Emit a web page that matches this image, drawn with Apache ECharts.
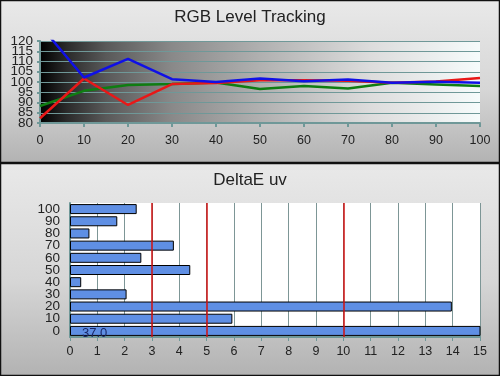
<!DOCTYPE html>
<html>
<head>
<meta charset="utf-8">
<script src="https://cdn.jsdelivr.net/npm/echarts@6/dist/echarts.min.js"></script>
<style>
  html, body { margin: 0; padding: 0; }
  #chart { width: 500px; height: 376px; }
</style>
</head>
<body>
<div id="chart"></div>
<script>
// RGB level tracking (top)
var levels = ['0', '10', '20', '30', '40', '50', '60', '70', '80', '90', '100'];
var redVals = [82.3, 101.7, 88.8, 99.0, 99.5, 100.8, 100.9, 100.6, 99.6, 100.2, 102.0];
var greenVals = [88.3, 95.7, 98.5, 99.0, 99.8, 96.6, 98.0, 96.8, 99.6, 98.8, 98.0];
var blueVals = [127.7, 102.2, 111.3, 101.4, 100.0, 101.7, 100.4, 101.2, 99.6, 100.1, 99.6];
var yMin = 80, yMax = 120;

// DeltaE uv (bottom)
var deltaVals = [37.0, 5.94, 13.97, 2.07, 0.41, 4.40, 2.61, 3.80, 0.71, 1.73, 2.44];
var limits = [3, 5, 10];

var teal = '#6f9898';
var font = 'Liberation Sans, Arial, sans-serif';

var chart = echarts.init(document.getElementById('chart'));

var panelFill = new echarts.graphic.LinearGradient(0, 0, 0, 1, [
  { offset: 0, color: '#e9e9e9' },
  { offset: 0.55, color: '#d6d6d6' },
  { offset: 1, color: '#b2b2b2' }
]);

var yLabel = { color: '#222', fontSize: 13.5, fontFamily: font, margin: 7 };

var option = {
  animation: false,
  graphic: [
    { type: 'rect', z: -100, shape: { x: 0.5, y: 0.5, width: 499, height: 162 },
      style: { fill: panelFill, stroke: '#111', lineWidth: 1.5 } },
    { type: 'rect', z: -100, shape: { x: 0.5, y: 163.5, width: 499, height: 212 },
      style: { fill: panelFill, stroke: '#111', lineWidth: 1.5 } }
  ],
  title: [
    { text: 'RGB Level Tracking', left: 'center', top: 4,
      textStyle: { fontSize: 17, fontWeight: 'normal', color: '#222', fontFamily: font } },
    { text: 'DeltaE uv', left: 'center', top: 167,
      textStyle: { fontSize: 17, fontWeight: 'normal', color: '#222', fontFamily: font } }
  ],
  grid: [
    { left: 40, right: 20, top: 41, height: 82, show: true, borderWidth: 0,
      backgroundColor: new echarts.graphic.LinearGradient(0, 0, 1, 0, [
        { offset: 0, color: '#000000' },
        { offset: 0.06, color: '#2a2a2a' },
        { offset: 0.15, color: '#595959' },
        { offset: 0.3, color: '#898989' },
        { offset: 0.5, color: '#b0b0b0' },
        { offset: 0.75, color: '#dcdcdc' },
        { offset: 1, color: '#f6fbfb' }
      ]) },
    { left: 70, right: 20, top: 203, height: 134, show: true, borderWidth: 0,
      backgroundColor: '#ffffff' }
  ],
  xAxis: [
    { gridIndex: 0, type: 'category', data: levels, boundaryGap: false,
      axisLine: { lineStyle: { color: teal, width: 2 } },
      axisTick: { alignWithLabel: true, interval: 0, length: 4, lineStyle: { color: teal, width: 2 } },
      axisLabel: { color: '#222', fontSize: 12.5, margin: 11, fontFamily: font,
        interval: 0, hideOverlap: false },
      splitLine: { show: false } },
    { gridIndex: 1, type: 'value', min: 0, max: 15, interval: 1,
      axisLine: { show: true, lineStyle: { color: teal, width: 2 } },
      axisTick: { show: true, length: 4, lineStyle: { color: teal } },
      axisLabel: { color: '#222', fontSize: 12.5, margin: 8, fontFamily: font,
        showMinLabel: true, showMaxLabel: true, hideOverlap: false },
      splitLine: { show: true, lineStyle: { color: '#7d9696', width: 1 } } }
  ],
  yAxis: [
    // main axis: line, ticks, grid lines, end labels
    { gridIndex: 0, type: 'value', min: yMin, max: yMax, interval: 5,
      axisLine: { show: true, lineStyle: { color: teal, width: 2 } },
      axisTick: { show: true, length: 3, lineStyle: { color: teal, width: 2 } },
      axisLabel: Object.assign({}, yLabel, { showMinLabel: true, showMaxLabel: true,
        formatter: function (v) { return (v === yMin || v === yMax) ? String(v) : ''; } }),
      splitLine: { show: true, lineStyle: { color: teal, width: 1 } } },
    // overlay axis: inner labels only
    { gridIndex: 0, type: 'value', min: yMin, max: yMax, interval: 5, position: 'left',
      axisLine: { show: false }, axisTick: { show: false }, splitLine: { show: false },
      axisLabel: Object.assign({}, yLabel, { showMinLabel: false, showMaxLabel: false }) },
    { gridIndex: 1, type: 'category', data: levels,
      axisLine: { lineStyle: { color: teal, width: 2 } },
      axisTick: { interval: 0, length: 4, lineStyle: { color: teal, width: 2 } },
      axisLabel: { color: '#222', fontSize: 13.5, margin: 10, fontFamily: font,
        interval: 0, hideOverlap: false },
      splitLine: { show: false } }
  ],
  series: [
    { type: 'line', xAxisIndex: 0, yAxisIndex: 0, data: redVals, symbol: 'none',
      lineStyle: { color: '#e81818', width: 2.5 }, z: 3 },
    { type: 'line', xAxisIndex: 0, yAxisIndex: 0, data: greenVals, symbol: 'none',
      lineStyle: { color: '#0f7d12', width: 2.5 }, z: 2 },
    { type: 'line', xAxisIndex: 0, yAxisIndex: 0, data: blueVals, symbol: 'none',
      lineStyle: { color: '#1010e6', width: 2.5 }, z: 4 },
    { type: 'bar', xAxisIndex: 1, yAxisIndex: 2, barWidth: 10,
      itemStyle: { color: '#5f8fe4', borderColor: '#000', borderWidth: 1 },
      data: deltaVals.map(function (v, i) {
        return i === 0 ? { value: v, label: { show: true } } : v;
      }),
      label: { show: false, position: 'insideLeft', distance: 12, color: '#1a2868',
        fontSize: 13, fontFamily: font, offset: [0, 3],
        formatter: function (p) { return p.value.toFixed(1); } },
      markLine: {
        silent: true, symbol: 'none', label: { show: false },
        lineStyle: { color: '#d01010', type: 'solid', width: 1.5 },
        data: limits.map(function (v) { return { xAxis: v }; })
      } }
  ]
};

chart.setOption(option);
</script>
</body>
</html>
